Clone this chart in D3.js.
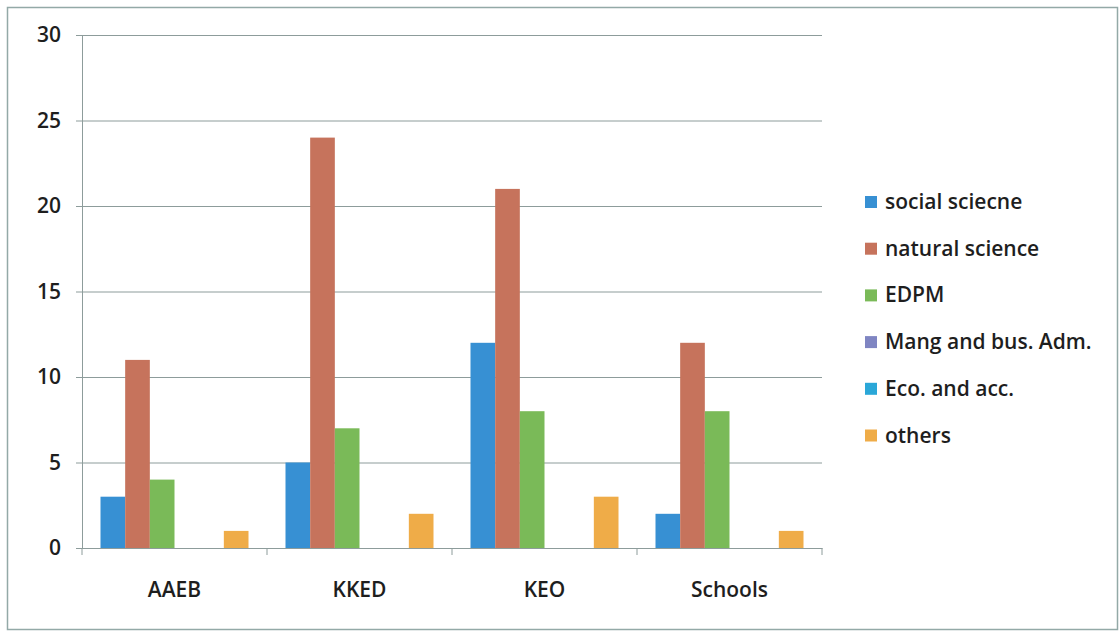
<!DOCTYPE html>
<html>
<head>
<meta charset="utf-8">
<script src="https://cdn.jsdelivr.net/npm/d3@7"></script>
<style>
  body { margin: 0; background: #fff; }
  text { font-family: "Open Sans", Lato, sans-serif; font-weight: 600; fill: #1e1e1e; }
</style>
</head>
<body>
<script>
// chart data
const categories = ["AAEB", "KKED", "KEO", "Schools"]
const seriesNames = ["social sciecne", "natural science", "EDPM", "Mang and bus. Adm.", "Eco. and acc.", "others"]
const seriesColors = ["#3790d3", "#c6735c", "#7aba58", "#7f85c2", "#2aa7d8", "#efac48"]
const values = [
    [3, 5, 12, 2],   // social sciecne
    [11, 24, 21, 12], // natural science
    [4, 7, 8, 8],    // EDPM
    [0, 0, 0, 0],    // Mang and bus. Adm.
    [0, 0, 0, 0],    // Eco. and acc.
    [1, 2, 3, 1]     // others
]
const yTicks = [0, 5, 10, 15, 20, 25, 30]

const width = 1119
const height = 631
const plot = {left: 82, right: 822, top: 35, bottom: 548}

const svg = d3.select("body").append("svg")
    .attr("width", width)
    .attr("height", height)

// outer frame
svg.append("rect")
    .attr("x", 7.5).attr("y", 7.5)
    .attr("width", width - 9).attr("height", height - 9)
    .attr("fill", "none")
    .attr("stroke", "#93a9a7")
    .attr("stroke-width", 1.5)

const x0 = d3.scaleBand()
    .domain(categories)
    .range([plot.left, plot.right])

// excel style gap width 150%
const x1 = d3.scaleBand()
    .domain(d3.range(seriesNames.length))
    .range([0, x0.bandwidth()])
    .paddingOuter(0.75)

const y = d3.scaleLinear()
    .domain([0, 30])
    .range([plot.bottom, plot.top])

// gridlines + y ticks
const yAxis = d3.axisLeft(y)
    .tickValues(yTicks)
    .tickSize(-(plot.right - plot.left))
    .tickPadding(21)
    .tickSizeOuter(0)

const gy = svg.append("g")
    .attr("transform", `translate(${plot.left},0)`)
    .call(yAxis)
gy.select(".domain").attr("stroke", "#8d9c9b")
gy.selectAll(".tick line")
    .attr("stroke", "#8d9c9b")
    .attr("x1", -6)
gy.selectAll(".tick text")
    .style("font-size", "21px")
    .attr("fill", "#1e1e1e")

// bars
const cells = []
values.forEach((row, s) => row.forEach((v, c) => cells.push({s: s, c: c, v: v})))

svg.append("g").selectAll("rect")
    .data(cells.filter(d => d.v > 0))
    .join("rect")
      .attr("x", d => x0(categories[d.c]) + x1(d.s))
      .attr("y", d => y(d.v))
      .attr("width", x1.bandwidth())
      .attr("height", d => y(0) - y(d.v))
      .attr("fill", d => seriesColors[d.s])

// x axis
const xAxis = d3.axisBottom(x0)
    .tickSize(0)
    .tickPadding(34)
const gx = svg.append("g")
    .attr("transform", `translate(0,${plot.bottom})`)
    .call(xAxis)
gx.select(".domain").attr("stroke", "#8d9c9b").attr("stroke-width", 1.2)
gx.selectAll(".tick text")
    .style("font-size", "21px")
    .attr("fill", "#1e1e1e")

// category separators
const bounds = categories.map(c => x0(c)).concat([plot.right])
gx.selectAll(".sep")
    .data(bounds)
    .join("line")
      .attr("class", "sep")
      .attr("x1", d => d).attr("x2", d => d)
      .attr("y1", 0).attr("y2", 7)
      .attr("stroke", "#8d9c9b")

// legend
const legend = svg.append("g")
    .attr("transform", "translate(865,209)")
const item = legend.selectAll("g")
    .data(seriesNames)
    .join("g")
      .attr("transform", (d, i) => `translate(0,${i * 46.7})`)
item.append("rect")
    .attr("x", 0).attr("y", -13)
    .attr("width", 12).attr("height", 12)
    .attr("fill", (d, i) => seriesColors[i])
item.append("text")
    .attr("x", 20)
    .attr("y", 0)
    .style("font-size", "21px")
    .text(d => d)
</script>
</body>
</html>
